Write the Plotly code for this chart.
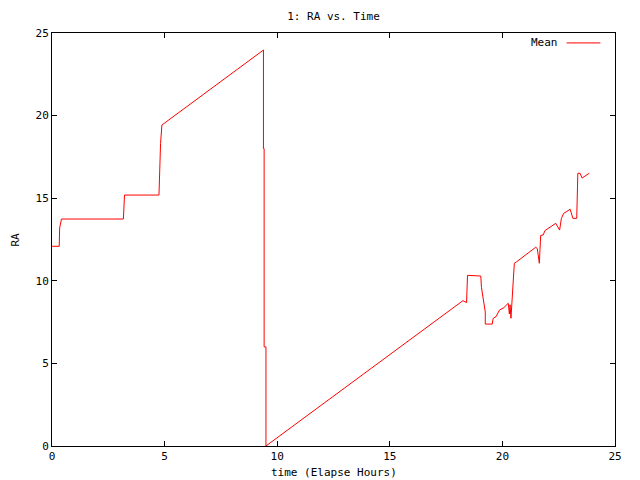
import plotly.graph_objects as go

time_h = [0, 0.32, 0.34, 0.42, 3.17, 3.19, 3.22, 4.75, 4.77, 4.82, 4.88,
          9.39, 9.39, 9.42, 9.42, 9.50, 9.50, 18.25, 18.41, 18.43, 18.45,
          19.04, 19.07, 19.24, 19.24, 19.55, 19.59, 19.72, 19.87, 20.06, 20.26,
          20.31, 20.34, 20.38, 20.42, 20.47, 20.53, 20.64, 21.48, 21.55, 21.59,
          21.64, 21.67, 21.70, 21.81, 21.89, 22.37, 22.54, 22.62, 22.72, 23.01,
          23.13, 23.30, 23.33, 23.35, 23.45, 23.54, 23.71, 23.86]
ra_mean = [12.09, 12.09, 13.2, 13.74, 13.74, 14.39, 15.19, 15.19, 16.24, 18.3, 19.43,
           23.97, 18.0, 18.0, 6.0, 6.0, 0.0, 8.80, 8.68, 9.6, 10.33,
           10.29, 9.6, 8.11, 7.38, 7.38, 7.73, 7.83, 8.23, 8.37, 8.64,
           7.99, 8.55, 7.73, 8.6, 9.44, 11.06, 11.16, 12.03, 11.95, 11.36,
           11.06, 11.9, 12.75, 12.77, 13.04, 13.48, 13.07, 13.78, 14.08, 14.33,
           13.78, 13.78, 15.1, 16.51, 16.51, 16.22, 16.38, 16.51]

x_ticks = [0, 5, 10, 15, 20, 25]
y_ticks = [0, 5, 10, 15, 20, 25]

FONT = "DejaVu Sans Mono"
W, H = 624, 472
ML, MR, MT, MB = 44, 10, 25, 34

fig = go.Figure()
fig.add_trace(go.Scatter(x=time_h, y=ra_mean, mode="lines", name="Mean",
                         line=dict(color="#ff0000", width=1), showlegend=False))

axis_common = dict(showline=True, linecolor="black", linewidth=1, mirror="ticks",
                   ticks="inside", ticklen=5, tickcolor="black", showgrid=False,
                   zeroline=False, tickfont=dict(family=FONT, size=11, color="black"))

fig.update_layout(
    width=W, height=H,
    margin=dict(l=ML, r=MR, t=MT, b=MB),
    paper_bgcolor="white", plot_bgcolor="white",
    font=dict(family=FONT, size=11, color="black"),
    title=dict(text="1: RA vs. Time", x=0.5, xref="paper", y=1 - 8 / H, yref="container",
               xanchor="center", yanchor="middle", font=dict(family=FONT, size=11)),
    xaxis=dict(range=[0, 25], tickvals=x_ticks, **axis_common),
    yaxis=dict(range=[0, 25], tickvals=y_ticks, **axis_common),
)

fig.add_annotation(text="time (Elapse Hours)", xref="paper", yref="paper", x=0.5, y=0,
                   yshift=-26, xanchor="center", yanchor="middle", showarrow=False,
                   font=dict(family=FONT, size=11))
fig.add_annotation(text="RA", xref="paper", yref="paper", x=0, y=0.5, xshift=-37,
                   textangle=-90, xanchor="center", yanchor="middle", showarrow=False,
                   font=dict(family=FONT, size=11))
# legend drawn manually (key sample to the right of the label, as in the reference)
fig.add_annotation(text="Mean", xref="paper", yref="paper", x=0.902, y=0.976,
                   xanchor="right", yanchor="middle", showarrow=False,
                   font=dict(family=FONT, size=11))
fig.add_shape(type="line", xref="paper", yref="paper", x0=0.914, x1=0.974,
              y0=0.976, y1=0.976, line=dict(color="#ff0000", width=1))

fig.write_html("out.html")
